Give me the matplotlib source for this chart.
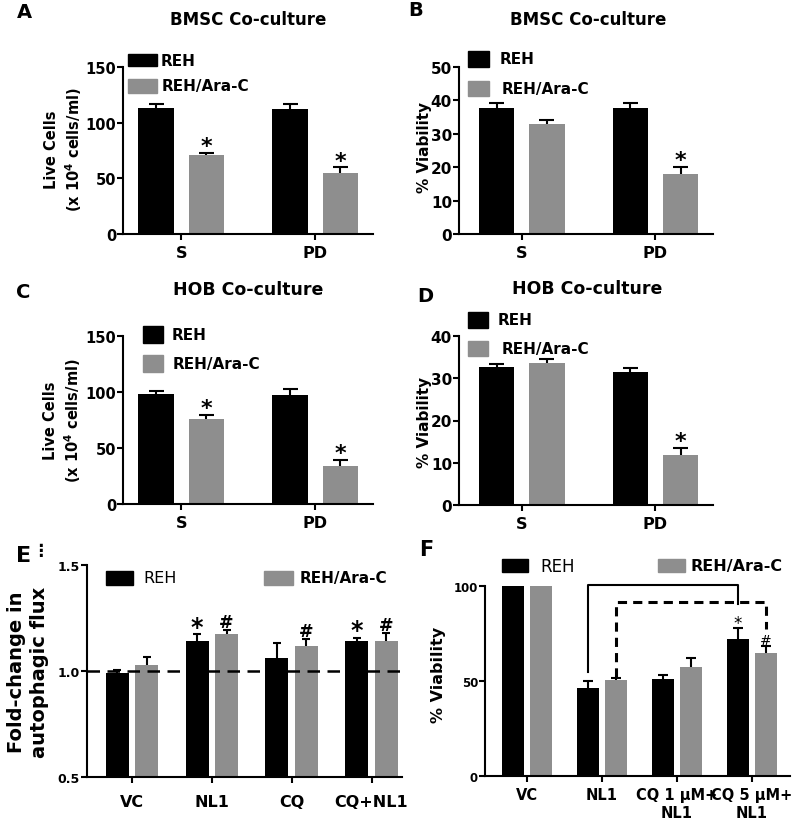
import numpy as np
import matplotlib.pyplot as plt
from matplotlib.patches import Rectangle

plt.rcParams['font.family'] = ['DejaVu Sans']
plt.rcParams['font.weight'] = 'bold'
plt.rcParams['axes.labelweight'] = 'bold'
plt.rcParams['mathtext.default'] = 'bf'

BLACK = '#000000'
GRAY = '#8e8e8e'

# panels A-D
groups_ab = ['S', 'PD']
a_reh = [113, 112]
a_reh_err = [4.2, 5]
a_ara = [71, 55]
a_ara_err = [1.8, 4.8]
b_reh = [37.8, 37.8]
b_reh_err = [1.3, 1.3]
b_ara = [32.8, 18]
b_ara_err = [1.3, 2.2]
c_reh = [98.4, 97]
c_reh_err = [2.6, 6]
c_ara = [75.5, 34.3]
c_ara_err = [4, 5.4]
d_reh = [32.6, 31.4]
d_reh_err = [0.7, 1.0]
d_ara = [33.7, 11.9]
d_ara_err = [0.9, 1.6]

# panel E
e_groups = ['VC', 'NL1', 'CQ', 'CQ+NL1']
e_reh = [0.99, 1.14, 1.063, 1.14]
e_reh_err = [0.015, 0.033, 0.07, 0.017]
e_ara = [1.03, 1.173, 1.118, 1.143]
e_ara_err = [0.037, 0.02, 0.032, 0.035]

# panel F
f_groups = ['VC', 'NL1', 'CQ 1 \u03bcM+\nNL1', 'CQ 5 \u03bcM+\nNL1']
f_reh = [100, 46.5, 51, 72]
f_reh_err = [0, 3.5, 2, 5.7]
f_ara = [100, 50.7, 57.2, 64.6]
f_ara_err = [0, 1, 4.8, 4]

W, H = 799, 829
fig = plt.figure(figsize=(W / 100, H / 100), dpi=100)


def add_ax(l, t, r, b):
    return fig.add_axes([l / W, 1 - b / H, (r - l) / W, (b - t) / H])


def fx(x):
    return x / W


def fy(y):
    return 1 - y / H


def style(ax, ysize, xsize, xpad=4):
    for s in ['top', 'right']:
        ax.spines[s].set_visible(False)
    for s in ['left', 'bottom']:
        ax.spines[s].set_linewidth(1.5)
    ax.tick_params(axis='y', length=4, width=1.5, pad=1, labelsize=ysize)
    ax.tick_params(axis='x', length=4, width=1.5, pad=xpad, labelsize=xsize)


def bars(ax, reh, reh_err, ara, ara_err, off, width, cap):
    x = np.arange(len(reh))
    ax.bar(x - off, reh, width, color=BLACK, zorder=2)
    ax.bar(x + off, ara, width, color=GRAY, zorder=2)
    for xs, v, e in ((x - off, reh, reh_err), (x + off, ara, ara_err)):
        v = np.asarray(v, float)
        e = np.asarray(e, float)
        m = e > 0
        ax.vlines(xs[m], v[m], v[m] + e[m], color='black', lw=1.5, zorder=3)
        ax.hlines(v[m] + e[m], xs[m] - cap, xs[m] + cap, color='black', lw=1.5, zorder=3)
    return x


def mark(ax, x, top, sym, size, weight='bold', dy=0.5):
    ax.annotate(sym, (x, top), xytext=(0, dy), textcoords='offset points',
                ha='center', va='baseline', fontsize=size, fontweight=weight)


def key(x, y, w, h, color, label, size, gap, weight='bold'):
    fig.patches.append(Rectangle((fx(x), fy(y + h)), w / W, h / H, color=color,
                                 transform=fig.transFigure, figure=fig))
    fig.text(fx(x + w + gap), fy(y + h / 2), label, fontsize=size,
             fontweight=weight, va='center', ha='left')


def ylab(x, y, s, size, ls=1.25):
    fig.text(fx(x), fy(y), s, rotation=90, ha='center', va='center',
             fontsize=size, fontweight='bold', linespacing=ls, multialignment='center')


OFF = 0.188
WID = 0.265
live_lab = 'Live Cells\n(x 10$^{4}$ cells/ml)'

# ---- A ----
ax = add_ax(123, 68, 373, 235)
x = bars(ax, a_reh, a_reh_err, a_ara, a_ara_err, OFF, WID, 0.056)
for i in range(2):
    mark(ax, x[i] + OFF, a_ara[i] + a_ara_err[i], '*', 16)
ax.set_xlim(-0.435, 1.431)
ax.set_ylim(0, 150)
ax.set_yticks([0, 50, 100, 150])
ax.set_xticks(x, groups_ab)
style(ax, 10.5, 11.5)
key(128, 55, 29, 12, BLACK, 'REH', 11, 4)
key(128, 80, 29, 14, GRAY, 'REH/Ara-C', 11, 5)
fig.text(fx(248), fy(20), 'BMSC Co-culture', ha='center', va='center', fontsize=12)
fig.text(fx(24), fy(13), 'A', ha='center', va='center', fontsize=14)
ylab(64, 150, live_lab, 10.5, ls=1.3)

# ---- B ----
ax = add_ax(459, 68, 713, 235)
x = bars(ax, b_reh, b_reh_err, b_ara, b_ara_err, OFF, WID, 0.056)
mark(ax, x[1] + OFF, b_ara[1] + b_ara_err[1], '*', 16)
ax.set_xlim(-0.469, 1.43)
ax.set_ylim(0, 50)
ax.set_yticks([0, 10, 20, 30, 40, 50])
ax.set_xticks(x, groups_ab)
style(ax, 11, 11.5)
key(468, 52, 21, 16, BLACK, 'REH', 11, 11)
key(468, 82, 21, 15, GRAY, 'REH/Ara-C', 11, 13)
fig.text(fx(588), fy(20), 'BMSC Co-culture', ha='center', va='center', fontsize=12)
fig.text(fx(416), fy(10), 'B', ha='center', va='center', fontsize=14)
ylab(424, 147, '% Viability', 11)

# ---- C ----
ax = add_ax(123, 337, 373, 505)
x = bars(ax, c_reh, c_reh_err, c_ara, c_ara_err, OFF, WID, 0.056)
for i in range(2):
    mark(ax, x[i] + OFF, c_ara[i] + c_ara_err[i], '*', 16)
ax.set_xlim(-0.435, 1.431)
ax.set_ylim(0, 150)
ax.set_yticks([0, 50, 100, 150])
ax.set_xticks(x, groups_ab)
style(ax, 10.5, 11.5)
key(143, 327, 20, 17, BLACK, 'REH', 11, 9)
key(143, 356, 20, 17, GRAY, 'REH/Ara-C', 11, 10)
fig.text(fx(248), fy(290), 'HOB Co-culture', ha='center', va='center', fontsize=12.5)
fig.text(fx(23), fy(292), 'C', ha='center', va='center', fontsize=14)
ylab(63, 421, live_lab, 10.5, ls=1.3)

# ---- D ----
ax = add_ax(459, 337, 713, 506)
x = bars(ax, d_reh, d_reh_err, d_ara, d_ara_err, OFF, WID, 0.056)
mark(ax, x[1] + OFF, d_ara[1] + d_ara_err[1], '*', 16)
ax.set_xlim(-0.469, 1.43)
ax.set_ylim(0, 40)
ax.set_yticks([0, 10, 20, 30, 40])
ax.set_xticks(x, groups_ab)
style(ax, 11, 11.5)
key(468, 313, 20, 16, BLACK, 'REH', 11, 10)
key(468, 342, 20, 15, GRAY, 'REH/Ara-C', 11, 14)
fig.text(fx(587), fy(289), 'HOB Co-culture', ha='center', va='center', fontsize=12.5)
fig.text(fx(425), fy(296), 'D', ha='center', va='center', fontsize=14)
ylab(425, 422, '% Viability', 11)

# ---- E ----
ax = add_ax(87, 566, 402, 778)
x = bars(ax, e_reh, e_reh_err, e_ara, e_ara_err, 0.185, 0.29, 0.05)
ax.axhline(1.0, color='black', lw=1.8, dashes=(5, 3), zorder=4)
for i in [1, 3]:
    mark(ax, x[i] - 0.185, e_reh[i] + e_reh_err[i], '*', 17)
for i in [1, 2, 3]:
    mark(ax, x[i] + 0.185, e_ara[i] + e_ara_err[i], '#', 12.5, dy=2.5)
ax.set_xlim(-0.564, 3.382)
ax.set_ylim(0.5, 1.5)
ax.set_yticks([0.5, 1.0, 1.5], ['0.5', '1.0', '1.5'])
ax.set_xticks(x, e_groups)
style(ax, 9, 11.5, xpad=8)
key(106, 572, 27, 14, BLACK, 'REH', 11.5, 10, weight='normal')
key(264, 572, 29, 14, GRAY, 'REH/Ara-C', 11, 7)
fig.text(fx(24), fy(556), 'E', ha='center', va='center', fontsize=16)
fig.text(fx(40), fy(551), '\u22ee', ha='center', va='center', fontsize=12)
ylab(28, 672, 'Fold-change in\nautophagic flux', 14, ls=1.3)

# ---- F ----
ax = add_ax(485, 587, 790, 777)
x = bars(ax, f_reh, f_reh_err, f_ara, f_ara_err, 0.187, 0.293, 0.067)
xb = x - 0.187
xg = x + 0.187
# significance brackets (NL1 vs CQ 5 uM + NL1)
ax.plot([xb[1], xb[1], xb[3], xb[3]], [55, 100.5, 100.5, 90.5], color='black', lw=1.5,
        zorder=4, clip_on=False)
ax.plot([xg[1], xg[1], xg[3], xg[3]], [52, 91.6, 91.6, 77.4], color='black', lw=2.2,
        dashes=(3, 2), zorder=4, clip_on=False)
mark(ax, xb[3], f_reh[3] + f_reh_err[3], '*', 12, weight='normal', dy=0)
mark(ax, xg[3], f_ara[3] + f_ara_err[3], '#', 10, weight='normal', dy=1.5)
ax.set_xlim(-0.56, 3.507)
ax.set_ylim(0, 100)
ax.set_yticks([0, 50, 100])
ax.set_xticks(x, f_groups)
style(ax, 8.5, 10.5, xpad=4)
key(502, 560, 26, 13, BLACK, 'REH', 12, 12, weight='normal')
key(658, 560, 27, 13, GRAY, 'REH/Ara-C', 11.5, 5)
fig.text(fx(426), fy(550), 'F', ha='center', va='center', fontsize=15)
ylab(438, 675, '% Viability', 11.5)

fig.savefig('out.png', dpi=100)
